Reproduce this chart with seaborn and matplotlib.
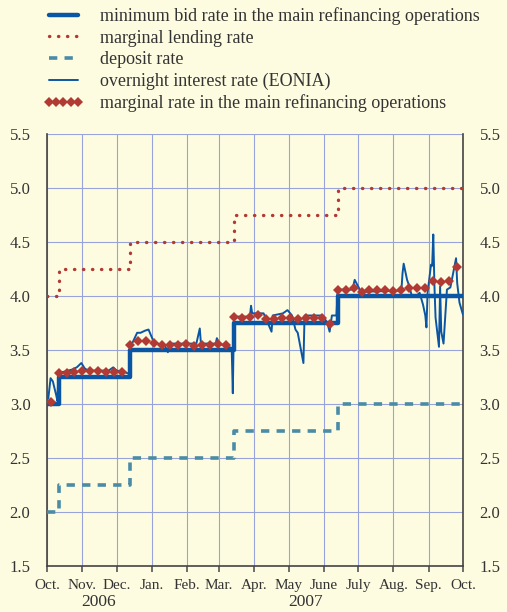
import matplotlib
matplotlib.use("Agg")
import matplotlib.pyplot as plt
from matplotlib.transforms import blended_transform_factory
import pandas as pd
import seaborn as sns

# ---------------------------------------------------------------
# Data
# ---------------------------------------------------------------
rate_dates = ["2006-10-01", "2006-10-11", "2006-12-13", "2007-03-14",
              "2007-06-13", "2007-10-01"]
min_bid = [3.00, 3.25, 3.50, 3.75, 4.00, 4.00]
lending = [4.00, 4.25, 4.50, 4.75, 5.00, 5.00]
deposit = [2.00, 2.25, 2.50, 2.75, 3.00, 3.00]

eonia_dates = [
    "2006-10-02", "2006-10-04", "2006-10-06", "2006-10-09", "2006-10-10",
    "2006-10-11", "2006-10-16", "2006-10-23", "2006-10-27", "2006-10-31",
    "2006-11-03", "2006-11-06", "2006-11-24", "2006-11-28", "2006-12-01",
    "2006-12-07", "2006-12-12", "2006-12-13", "2006-12-15", "2006-12-19",
    "2006-12-22", "2006-12-26", "2006-12-29", "2007-01-02", "2007-01-05",
    "2007-01-12", "2007-01-15", "2007-01-16", "2007-02-09", "2007-02-12",
    "2007-02-13", "2007-02-26", "2007-02-27", "2007-03-01", "2007-03-06",
    "2007-03-12", "2007-03-13", "2007-03-14", "2007-03-15", "2007-03-28",
    "2007-03-29", "2007-03-30", "2007-04-09", "2007-04-12", "2007-04-16",
    "2007-04-17", "2007-04-26", "2007-04-30", "2007-05-04", "2007-05-07",
    "2007-05-09", "2007-05-14", "2007-05-15", "2007-05-31", "2007-06-04",
    "2007-06-06", "2007-06-08", "2007-06-12", "2007-06-13", "2007-06-15",
    "2007-06-26", "2007-06-28", "2007-07-02", "2007-07-04", "2007-07-06",
    "2007-08-08", "2007-08-09", "2007-08-10", "2007-08-13", "2007-08-14",
    "2007-08-17", "2007-08-22", "2007-08-24", "2007-08-27", "2007-08-29",
    "2007-08-30", "2007-08-31", "2007-09-03", "2007-09-04", "2007-09-05",
    "2007-09-06", "2007-09-07", "2007-09-10", "2007-09-11", "2007-09-12",
    "2007-09-14", "2007-09-17", "2007-09-20", "2007-09-25", "2007-09-26",
    "2007-09-28", "2007-10-01",
]
eonia = [
    3.05, 3.24, 3.21, 3.08, 3.03,
    3.29, 3.30, 3.32, 3.34, 3.38,
    3.33, 3.31, 3.31, 3.34, 3.31,
    3.30, 3.28, 3.54, 3.57, 3.66,
    3.66, 3.68, 3.69, 3.59, 3.56,
    3.55, 3.48, 3.56, 3.56, 3.70,
    3.56, 3.56, 3.61, 3.56, 3.54,
    3.52, 3.10, 3.78, 3.81, 3.81,
    3.91, 3.84, 3.84, 3.77, 3.67,
    3.82, 3.84, 3.87, 3.82, 3.69,
    3.66, 3.38, 3.82, 3.82, 3.75,
    3.67, 3.82, 3.82, 4.04, 4.06,
    4.06, 4.15, 4.07, 4.02, 4.04,
    4.05, 4.21, 4.30, 4.15, 4.12,
    4.01, 4.01, 4.03, 3.92, 3.82,
    3.71, 4.03, 4.29, 4.28, 4.57,
    4.10, 3.80, 3.53, 4.09, 3.67,
    3.56, 4.06, 4.08, 4.35, 4.12,
    3.94, 3.83,
]

# weekly main refinancing operations (Wednesdays)
mro_dates = pd.date_range("2006-10-04", periods=52, freq="7D")
mro_marginal = [
    3.02, 3.29, 3.29, 3.30, 3.31, 3.31, 3.31, 3.30, 3.30, 3.30,
    3.55, 3.58, 3.58, 3.57, 3.55, 3.55, 3.55, 3.56, 3.54, 3.55,
    3.55, 3.56, 3.55, 3.81, 3.80, 3.81, 3.82, 3.79, 3.79, 3.80,
    3.80, 3.79, 3.80, 3.80, 3.80, 3.74, 4.06, 4.06, 4.07, 4.04,
    4.06, 4.06, 4.06, 4.05, 4.06, 4.07, 4.07, 4.07, 4.14, 4.13,
    4.14, 4.27,
]

month_labels = ["Oct.", "Nov.", "Dec.", "Jan.", "Feb.", "Mar.", "Apr.",
                "May", "June", "July", "Aug.", "Sep.", "Oct."]
year_labels = ["2006", "2007"]
year_pos = ["2006-11-15", "2007-05-16"]

labels = ["minimum bid rate in the main refinancing operations",
          "marginal lending rate",
          "deposit rate",
          "overnight interest rate (EONIA)",
          "marginal rate in the main refinancing operations"]

rates = pd.DataFrame({"date": pd.to_datetime(rate_dates), "min_bid": min_bid,
                      "lending": lending, "deposit": deposit})
eonia_df = pd.DataFrame({"date": pd.to_datetime(eonia_dates), "rate": eonia})
mro_df = pd.DataFrame({"date": mro_dates, "rate": mro_marginal})

# ---------------------------------------------------------------
# Figure
# ---------------------------------------------------------------
sns.set_theme(style="white")
plt.rcParams["font.family"] = ["Liberation Serif", "DejaVu Serif"]

BG = "#FEFCE0"
BLUE = "#0B56A4"
RED = "#B23A34"
TEAL = "#4A8CA6"
GRID = "#97A3DA"

fig, ax = plt.subplots(figsize=(5.07, 6.12), dpi=100)
fig.patch.set_facecolor(BG)
ax.set_facecolor(BG)
fig.subplots_adjust(left=0.093, right=0.913, bottom=0.075, top=0.781)

sns.lineplot(data=rates, x="date", y="min_bid", ax=ax, color=BLUE, lw=3.2,
             drawstyle="steps-post", estimator=None, label=labels[0], zorder=3)
sns.lineplot(data=rates, x="date", y="lending", ax=ax, color=RED, lw=2.4,
             drawstyle="steps-post", estimator=None, label=labels[1],
             linestyle=(0, (0.1, 2.6)), dash_capstyle="round", zorder=3)
sns.lineplot(data=rates, x="date", y="deposit", ax=ax, color=TEAL, lw=2.6,
             drawstyle="steps-post", estimator=None, label=labels[2],
             linestyle=(0, (2.3, 2.0)), zorder=3)
sns.lineplot(data=eonia_df, x="date", y="rate", ax=ax, color=BLUE, lw=1.4,
             estimator=None, label=labels[3], zorder=4)
sns.lineplot(data=mro_df, x="date", y="rate", ax=ax, color=RED,
             linestyle="", marker="D", markersize=5.5, markeredgewidth=0,
             estimator=None, label=labels[4], zorder=5)

# axes
month_ticks = pd.date_range("2006-10-01", "2007-10-01", freq="MS")
ax.set_xlim(month_ticks[0], month_ticks[-1])
ax.set_ylim(1.5, 5.5)
ax.set_xticks(month_ticks)
ax.set_xticklabels(month_labels, fontsize=11, color="#333333")
yt = [1.5, 2.0, 2.5, 3.0, 3.5, 4.0, 4.5, 5.0, 5.5]
ax.set_yticks(yt)
ax.set_yticklabels([f"{v:.1f}" for v in yt], fontsize=12, color="#333333")
ax.tick_params(axis="y", left=False, right=False, labelleft=True,
               labelright=True, pad=6)
ax.tick_params(axis="x", bottom=True, direction="out", length=4, width=1.2,
               color="#555555", pad=5)
ax.set_xlabel("")
ax.set_ylabel("")

ax.grid(True, color=GRID, lw=0.8)
ax.set_axisbelow(True)
for side in ["left", "right", "bottom"]:
    ax.spines[side].set_color("#444444")
    ax.spines[side].set_linewidth(1.2)
ax.spines["top"].set_visible(False)

trans = blended_transform_factory(ax.transData, ax.transAxes)
for lab, pos in zip(year_labels, year_pos):
    ax.text(pd.Timestamp(pos), -0.064, lab, transform=trans, ha="center",
            va="top", fontsize=12.5, color="#333333")

handles, labs = ax.get_legend_handles_labels()
ax.get_legend().remove()
fig.legend(handles, labs, loc="upper left", bbox_to_anchor=(0.068, 1.003),
           frameon=False, fontsize=13, handlelength=2.2, handletextpad=0.95,
           labelspacing=0.25, borderpad=0, numpoints=5, labelcolor="#333333")

fig.savefig("out.png", dpi=100, facecolor=BG)
